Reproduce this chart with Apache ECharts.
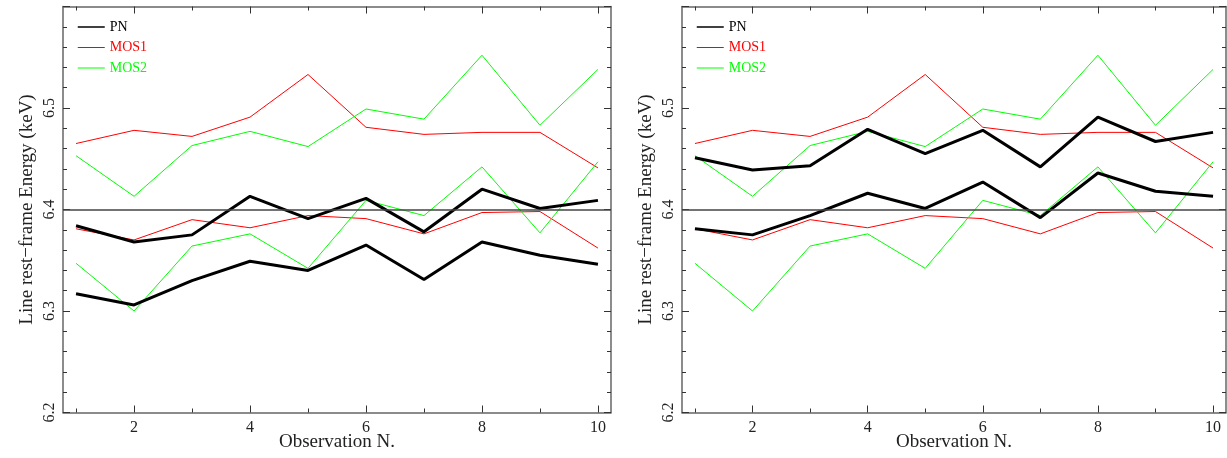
<!DOCTYPE html>
<html>
<head>
<meta charset="utf-8">
<script src="https://cdn.jsdelivr.net/npm/echarts@6/dist/echarts.min.js"></script>
<style>
  html, body { margin: 0; padding: 0; background: #fff; }
  #chart { width: 1227px; height: 458px; }
</style>
</head>
<body>
<div id="chart"></div>
<script>
const obs = [1, 2, 3, 4, 5, 6, 7, 8, 9, 10]
const majorX = [2, 4, 6, 8, 10]
const minorX = [1, 3, 5, 7, 9]
const yLabels = [6.2, 6.3, 6.4, 6.5]
const refEnergy = 6.4

// left panel PN bounds
const pnHighA = [6.384, 6.368, 6.375, 6.413, 6.391, 6.411, 6.378, 6.420, 6.401, 6.409]
const pnLowA = [6.317, 6.306, 6.330, 6.349, 6.340, 6.365, 6.331, 6.368, 6.355, 6.346]
// right panel PN bounds
const pnHighB = [6.451, 6.439, 6.443, 6.479, 6.455, 6.478, 6.442, 6.491, 6.467, 6.476]
const pnLowB = [6.381, 6.375, 6.394, 6.416, 6.401, 6.427, 6.392, 6.436, 6.418, 6.413]
// MOS bounds (same in both panels)
const mos1High = [6.465, 6.478, 6.472, 6.491, 6.533, 6.481, 6.474, 6.476, 6.476, 6.441]
const mos1Low = [6.381, 6.370, 6.390, 6.382, 6.394, 6.391, 6.376, 6.397, 6.398, 6.362]
const mos2High = [6.453, 6.413, 6.463, 6.477, 6.462, 6.499, 6.489, 6.552, 6.483, 6.538]
const mos2Low = [6.347, 6.300, 6.364, 6.376, 6.342, 6.409, 6.394, 6.442, 6.377, 6.447]

const font = 'Liberation Serif'
const axisColor = '#666'
const colors = { PN: '#000', MOS1: '#ff0000', MOS2: '#00ff00' }

const pts = (vals) => obs.map((x, i) => [x, vals[i]])

const grids = [
  { left: 63, top: 6.5, width: 548, height: 406, outerBoundsMode: 'none' },
  { left: 682, top: 6.5, width: 544, height: 406, outerBoundsMode: 'none' }
]

const xAxes = []
const yAxes = []
grids.forEach((g, gi) => {
  const base = {
    type: 'value',
    gridIndex: gi,
    min: 0.775,
    max: 10.225,
    splitLine: { show: false }
  }
  // bottom major (labels)
  xAxes.push({
    ...base,
    position: 'bottom',
    name: 'Observation N.',
    nameLocation: 'middle',
    nameGap: 20,
    nameMoveOverlap: false,
    nameTextStyle: { fontFamily: font, fontSize: 19, color: '#222' },
    axisLine: { show: true, lineStyle: { color: axisColor, width: 1.5 } },
    axisTick: { inside: true, length: 7, customValues: majorX, lineStyle: { color: '#333' } },
    axisLabel: { customValues: majorX, margin: 7, fontFamily: font, fontSize: 16, color: '#222' }
  })
  // bottom minor
  xAxes.push({
    ...base,
    position: 'bottom',
    axisLine: { show: false },
    axisTick: { inside: true, length: 4, customValues: minorX, lineStyle: { color: '#333' } },
    axisLabel: { show: false }
  })
  // top major
  xAxes.push({
    ...base,
    position: 'top',
    axisLine: { show: true, lineStyle: { color: axisColor, width: 1.5 } },
    axisTick: { inside: true, length: 7, customValues: majorX, lineStyle: { color: '#333' } },
    axisLabel: { show: false }
  })
  // top minor
  xAxes.push({
    ...base,
    position: 'top',
    axisLine: { show: false },
    axisTick: { inside: true, length: 4, customValues: minorX, lineStyle: { color: '#333' } },
    axisLabel: { show: false }
  })

  const ybase = {
    type: 'value',
    gridIndex: gi,
    min: 6.2,
    max: 6.6,
    interval: 0.1,
    splitLine: { show: false },
    axisLine: { show: true, lineStyle: { color: axisColor, width: 1.5 } },
    axisTick: { inside: true, length: 7, lineStyle: { color: '#333' } },
    minorTick: { show: true, splitNumber: 5, length: 4, lineStyle: { color: '#333' } }
  }
  yAxes.push({
    ...ybase,
    position: 'left',
    name: 'Line rest\u2212frame Energy (keV)',
    nameLocation: 'middle',
    nameRotate: 90,
    nameGap: 26,
    nameMoveOverlap: false,
    nameTextStyle: { fontFamily: font, fontSize: 19, color: '#222' },
    axisLabel: {
      customValues: yLabels,
      formatter: (v) => v.toFixed(1),
      rotate: 90,
      margin: 5,
      fontFamily: font,
      fontSize: 16,
      color: '#222'
    }
  })
  yAxes.push({
    ...ybase,
    position: 'right',
    axisLabel: { show: false }
  })
})

const makeLine = (name, vals, gi, width) => ({
  name,
  type: 'line',
  xAxisIndex: gi * 4,
  yAxisIndex: gi * 2,
  data: pts(vals),
  symbol: 'none',
  silent: true,
  animation: false,
  lineStyle: { color: colors[name], width },
  itemStyle: { color: colors[name] }
})

const series = []
const panels = [
  [pnHighA, pnLowA],
  [pnHighB, pnLowB]
]
panels.forEach(([hi, lo], gi) => {
  series.push(makeLine('MOS1', mos1High, gi, 1))
  series.push(makeLine('MOS1', mos1Low, gi, 1))
  series.push(makeLine('MOS2', mos2High, gi, 1))
  series.push(makeLine('MOS2', mos2Low, gi, 1))
  const pnHi = makeLine('PN', hi, gi, 3)
  pnHi.markLine = {
    silent: true,
    symbol: 'none',
    label: { show: false },
    lineStyle: { color: '#444', width: 1.5, type: 'solid' },
    data: [{ yAxis: refEnergy }]
  }
  series.push(pnHi)
  series.push(makeLine('PN', lo, gi, 3))
})

const legendData = [
  { name: 'PN', textStyle: { color: colors.PN }, lineStyle: { width: 1.5 } },
  { name: 'MOS1', textStyle: { color: colors.MOS1 }, lineStyle: { width: 1 } },
  { name: 'MOS2', textStyle: { color: colors.MOS2 }, lineStyle: { width: 1 } }
]
const legends = [72, 691].map((left) => ({
  left,
  top: 15,
  orient: 'vertical',
  itemWidth: 27,
  itemHeight: 14,
  itemGap: 6.5,
  selectedMode: false,
  itemStyle: { opacity: 0 },
  textStyle: { fontFamily: font, fontSize: 14 },
  data: legendData
}))

const chart = echarts.init(document.getElementById('chart'))
chart.setOption({
  animation: false,
  backgroundColor: '#fff',
  grid: grids,
  xAxis: xAxes,
  yAxis: yAxes,
  legend: legends,
  series
})
</script>
</body>
</html>
